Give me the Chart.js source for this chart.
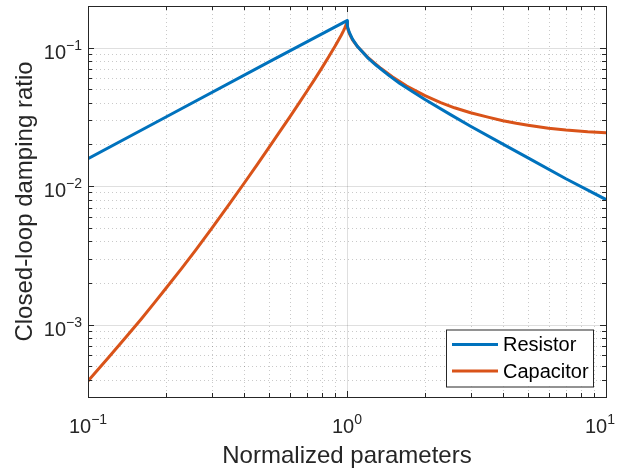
<!DOCTYPE html>
<html>
<head>
<meta charset="utf-8">
<script src="https://cdn.jsdelivr.net/npm/chart.js@4.4.0/dist/chart.umd.min.js"></script>
<style>
  html, body { margin: 0; padding: 0; background: #fff; }
</style>
</head>
<body>
<canvas id="chart" width="620" height="476"></canvas>
<script>
// series values (log-log)
const resistorX = [0.1, 0.2, 0.5, 1, 1.002, 1.005, 1.01, 1.02, 1.05, 1.1, 1.2, 1.3, 1.45, 1.6, 1.8, 2, 2.5, 3, 4, 5, 7, 10];
const resistorY = [0.0158, 0.0316, 0.079, 0.157, 0.1483, 0.143, 0.1372, 0.1294, 0.1153, 0.1014, 0.0848, 0.0743, 0.0631, 0.0552, 0.0479, 0.0423, 0.0330, 0.0271, 0.0201, 0.0160, 0.0113, 0.0080];

const capacitorX = [0.1, 0.12, 0.14, 0.16, 0.18, 0.2, 0.23, 0.26, 0.3, 0.35, 0.4, 0.45, 0.5, 0.55, 0.6, 0.65, 0.7, 0.75, 0.8, 0.85,
                    0.9, 0.93, 0.95, 0.97, 0.98, 0.99, 0.995, 1,
                    1.002, 1.005, 1.01, 1.02, 1.05, 1.1, 1.2, 1.35, 1.5, 1.7, 2, 2.3, 2.6, 3, 3.5, 4, 4.5, 5, 6, 7, 8.5, 10];
const capacitorY = [0.000392, 0.000578, 0.000809, 0.00109, 0.00143, 0.00183, 0.00255, 0.00344, 0.00493, 0.00735, 0.01045, 0.01432,
                    0.01905, 0.02472, 0.03141, 0.03926, 0.04842, 0.05902, 0.07145, 0.0859,
                    0.1028, 0.1146, 0.1230, 0.1327, 0.1384, 0.1449, 0.1489, 0.1542,
                    0.146, 0.140, 0.134, 0.127, 0.114, 0.1015, 0.0855, 0.0710, 0.0615, 0.0528, 0.0450, 0.0401, 0.0368, 0.0339,
                    0.0315, 0.0297, 0.02844, 0.02754, 0.0262, 0.02541, 0.02466, 0.02427];

const seriesNames = ['Resistor', 'Capacitor'];
const seriesColors = ['#0072BD', '#D95319'];

// axis ticks
const xTicks = [0.1, 1, 10];
const xTickExp = ['\u22121', '0', '1'];
const yTicks = [0.001, 0.01, 0.1];
const yTickExp = ['\u22123', '\u22122', '\u22121'];

const xTitle = 'Normalized parameters';
const yTitle = 'Closed-loop damping ratio';

const FONT = '"Liberation Sans", Arial, Helvetica, sans-serif';
const INK = '#262626';

function toPoints(xs, ys) {
    return xs.map((x, i) => ({ x: x, y: ys[i] }));
}

function minorValues(min, max) {
    const out = [];
    for (let e = Math.floor(Math.log10(min)); e <= Math.ceil(Math.log10(max)); e++) {
        for (let k = 1; k <= 9; k++) {
            const v = k * Math.pow(10, e);
            if (v >= min * 0.999 && v <= max * 1.001) out.push({ v: v, major: k === 1 });
        }
    }
    return out;
}

function drawPow(ctx, exp, x, y, align) {
    ctx.font = '20px ' + FONT;
    const wb = ctx.measureText('10').width;
    ctx.font = '14px ' + FONT;
    const we = ctx.measureText(exp).width;
    let left = align === 'right' ? x - wb - we : x - (wb + we) / 2;
    if (left + wb + we > 615) left = 615 - wb - we;
    ctx.textAlign = 'left';
    ctx.textBaseline = 'alphabetic';
    ctx.font = '20px ' + FONT;
    ctx.fillText('10', left, y);
    ctx.font = '14px ' + FONT;
    ctx.fillText(exp, left + wb, y - 9);
}

const matlabAxes = {
    id: 'matlabAxes',
    beforeDatasetsDraw(chart) {
        const { ctx, chartArea: a, scales: { x, y } } = chart;
        ctx.save();
        ctx.lineWidth = 1;
        minorValues(x.min, x.max).forEach(t => {
            const px = Math.round(x.getPixelForValue(t.v)) + 0.5;
            ctx.strokeStyle = t.major ? 'rgba(38,38,38,0.15)' : 'rgba(38,38,38,0.25)';
            ctx.setLineDash(t.major ? [] : [1, 3]);
            ctx.beginPath(); ctx.moveTo(px, a.top); ctx.lineTo(px, a.bottom); ctx.stroke();
        });
        minorValues(y.min, y.max).forEach(t => {
            const py = Math.round(y.getPixelForValue(t.v)) + 0.5;
            ctx.strokeStyle = t.major ? 'rgba(38,38,38,0.15)' : 'rgba(38,38,38,0.25)';
            ctx.setLineDash(t.major ? [] : [1, 3]);
            ctx.beginPath(); ctx.moveTo(a.left, py); ctx.lineTo(a.right, py); ctx.stroke();
        });
        ctx.restore();
    },
    afterDatasetsDraw(chart) {
        const { ctx, chartArea: a, scales: { x, y } } = chart;
        ctx.save();
        ctx.strokeStyle = INK;
        ctx.fillStyle = INK;
        ctx.lineWidth = 1;
        ctx.setLineDash([]);

        // box
        ctx.strokeRect(Math.round(a.left) + 0.5, Math.round(a.top) + 0.5,
            Math.round(a.right - a.left), Math.round(a.bottom - a.top));

        // tick marks on all four sides
        ctx.beginPath();
        minorValues(x.min, x.max).forEach(t => {
            const px = Math.round(x.getPixelForValue(t.v)) + 0.5;
            const len = t.major ? 6 : 4;
            ctx.moveTo(px, a.bottom); ctx.lineTo(px, a.bottom - len);
            ctx.moveTo(px, a.top); ctx.lineTo(px, a.top + len);
        });
        minorValues(y.min, y.max).forEach(t => {
            const py = Math.round(y.getPixelForValue(t.v)) + 0.5;
            const len = t.major ? 6 : 4;
            ctx.moveTo(a.left, py); ctx.lineTo(a.left + len, py);
            ctx.moveTo(a.right, py); ctx.lineTo(a.right - len, py);
        });
        ctx.stroke();

        // tick labels
        xTicks.forEach((v, i) => drawPow(ctx, xTickExp[i], x.getPixelForValue(v), a.bottom + 36, 'center'));
        yTicks.forEach((v, i) => drawPow(ctx, yTickExp[i], a.left - 6, y.getPixelForValue(v) + 11, 'right'));

        // axis titles
        ctx.font = '24px ' + FONT;
        ctx.textAlign = 'center';
        ctx.textBaseline = 'alphabetic';
        ctx.fillText(xTitle, (a.left + a.right) / 2, 463);
        ctx.save();
        ctx.translate(32, (a.top + a.bottom) / 2);
        ctx.rotate(-Math.PI / 2);
        ctx.fillText(yTitle, 0, 0);
        ctx.restore();

        // legend, lower right
        const lx = 446, ly = 329.5, lw = 147, lh = 57;
        ctx.fillStyle = '#fff';
        ctx.fillRect(lx, ly, lw, lh);
        ctx.strokeStyle = INK;
        ctx.strokeRect(lx + 0.5, ly + 0.5, lw, lh);
        ctx.font = '20px ' + FONT;
        ctx.textAlign = 'left';
        ctx.textBaseline = 'middle';
        chart.data.datasets.forEach((ds, i) => {
            const cy = 344.5 + i * 26.5;
            ctx.strokeStyle = ds.borderColor;
            ctx.lineWidth = 3;
            ctx.beginPath(); ctx.moveTo(452, cy); ctx.lineTo(498, cy); ctx.stroke();
            ctx.fillStyle = '#000';
            ctx.fillText(ds.label, 503, cy + 1);
        });
        ctx.restore();
    }
};

new Chart(document.getElementById('chart'), {
    type: 'line',
    data: {
        datasets: [
            { label: seriesNames[0], data: toPoints(resistorX, resistorY), borderColor: seriesColors[0] },
            { label: seriesNames[1], data: toPoints(capacitorX, capacitorY), borderColor: seriesColors[1] }
        ]
    },
    options: {
        responsive: false,
        animation: false,
        layout: { padding: { left: 88, right: 14, top: 6, bottom: 79 } },
        plugins: { legend: { display: false }, tooltip: { enabled: false } },
        elements: {
            point: { radius: 0 },
            line: { borderWidth: 3, tension: 0, borderJoinStyle: 'round', borderCapStyle: 'round' }
        },
        scales: {
            x: { type: 'logarithmic', min: 0.1, max: 10, display: false },
            y: { type: 'logarithmic', min: 0.0003, max: 0.2, display: false }
        }
    },
    plugins: [matlabAxes]
});
</script>
</body>
</html>
